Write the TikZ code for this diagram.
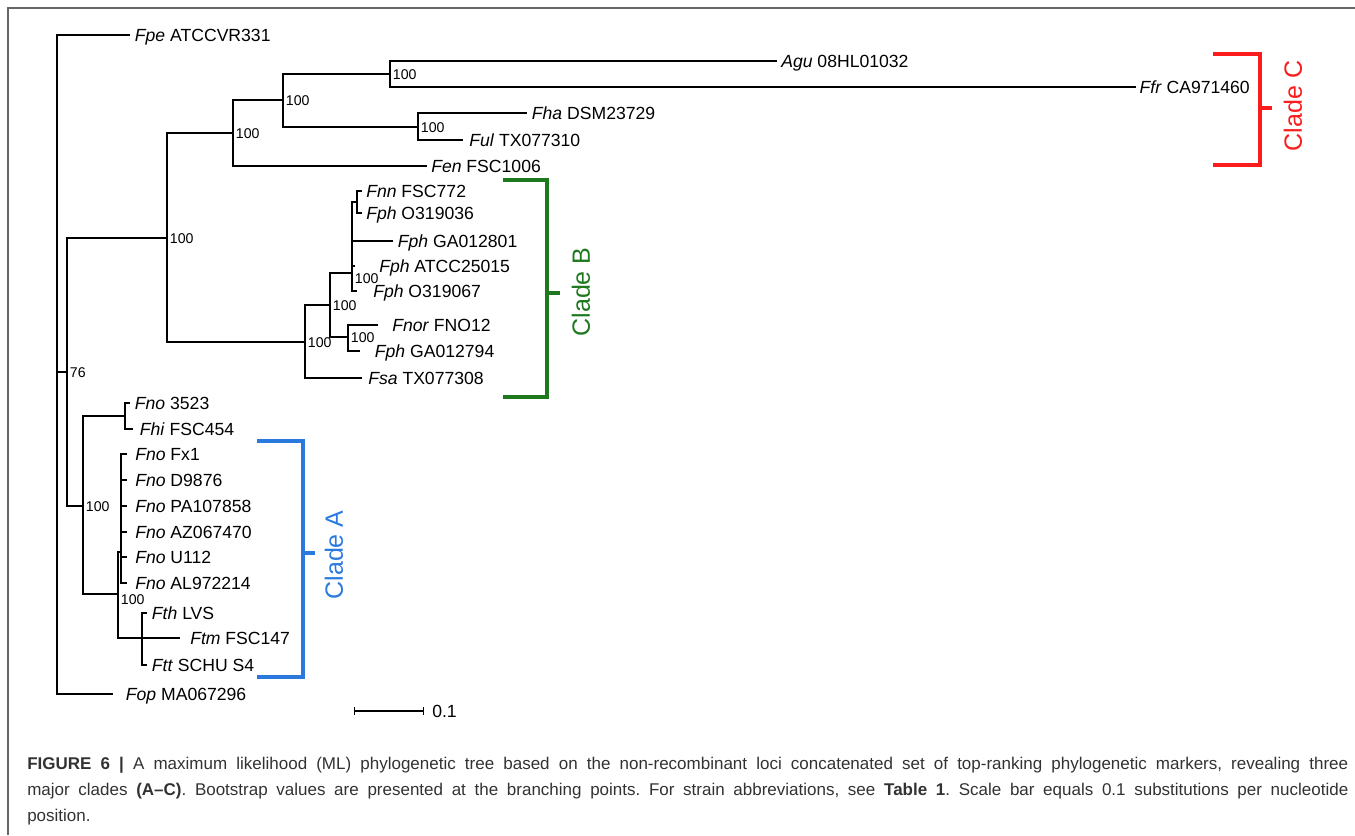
\documentclass[tikz,border=0pt]{standalone}
\usepackage{fontspec}
\setmainfont{Liberation Sans}
\newfontfamily\capfont{Liberation Sans}
\usetikzlibrary{positioning,arrows.meta}
\definecolor{cladeAblue}{RGB}{42,122,222}
\definecolor{cladeBgreen}{RGB}{30,120,30}
\definecolor{cladeCred}{RGB}{250,28,28}
\definecolor{capgray}{RGB}{50,50,50}
\frenchspacing
\begin{document}
\begin{tikzpicture}[x=0.75pt, y=-0.75pt,
  branch/.style={line width=1pt},
  tip/.style={anchor=west, inner xsep=3.5pt, inner ysep=0pt, text height=9.4pt, text depth=0pt, font=\fontsize{13.2}{15}\selectfont},
  boot/.style={anchor=west, inner xsep=2pt, inner ysep=0pt, text height=7.6pt, text depth=0pt, font=\fontsize{10.6}{12}\selectfont},
  clade/.style={line width=3pt},
  cladelab/.style={rotate=90, font=\fontsize{18.75}{20}\selectfont},
  frame/.style={draw=gray!80!black, line width=1pt}
]
\useasboundingbox (0,0) rectangle (1355,835);
\draw[frame] (8,835) |- (1355,8);

% internal nodes
\coordinate (r0) at (57,372);
\coordinate (n76) at (67,372);
\coordinate (nBC) at (167,238);
\coordinate (nC) at (233,133);
\coordinate (nC1) at (283,100);
\coordinate (nAF) at (390,74);
\coordinate (nHU) at (418,127);
\coordinate (nB) at (305,342);
\coordinate (nB1) at (330,305);
\coordinate (nB2) at (352,273);
\coordinate (nB3) at (348,337);
\coordinate (nB4) at (357,202);
\coordinate (nA0) at (83,506);
\coordinate (nA1) at (125,416);
\coordinate (nA2) at (118,594);
\coordinate (nA3) at (121,552);
\coordinate (nA4) at (142,638);

% tips
\node[tip] (fpe) at (130,35) {\textit{Fpe} ATCCVR331};
\node[tip, inner xsep=3pt] (agu) at (777,61) {\textit{Agu} 08HL01032};
\node[tip, inner xsep=2.5pt] (ffr) at (1136,87) {\textit{Ffr} CA971460};
\node[tip] (fha) at (527,113) {\textit{Fha} DSM23729};
\node[tip, inner xsep=4.5pt] (ful) at (463,140) {\textit{Ful} TX077310};
\node[tip, inner xsep=3pt] (fen) at (427,166) {\textit{Fen} FSC1006};
\node[tip, inner xsep=3pt] (fnn) at (362,191) {\textit{Fnn} FSC772};
\node[tip, inner xsep=3pt] (fph036) at (362,213) {\textit{Fph} O319036};
\node[tip] (fph801) at (393,241) {\textit{Fph} GA012801};
\node[tip, inner xsep=18pt] (fph015) at (355,266) {\textit{Fph} ATCC25015};
\node[tip, inner xsep=12pt] (fph067) at (357,291) {\textit{Fph} O319067};
\node[tip, inner xsep=10.5pt] (fnor) at (378,325) {\textit{Fnor} FNO12};
\node[tip, inner xsep=11pt] (fph794) at (360,351) {\textit{Fph} GA012794};
\node[tip, inner xsep=4.5pt] (fsa) at (362,378) {\textit{Fsa} TX077308};
\node[tip] (fno3523) at (130,403) {\textit{Fno} 3523};
\node[tip, inner xsep=5pt] (fhi) at (133,429) {\textit{Fhi} FSC454};
\node[tip, inner xsep=6pt] (fx1) at (127,454) {\textit{Fno} Fx1};
\node[tip, inner xsep=6pt] (d9876) at (127,480) {\textit{Fno} D9876};
\node[tip, inner xsep=6pt] (pa107) at (127,506) {\textit{Fno} PA107858};
\node[tip, inner xsep=6pt] (az067) at (127,532) {\textit{Fno} AZ067470};
\node[tip, inner xsep=6pt] (u112) at (127,557) {\textit{Fno} U112};
\node[tip, inner xsep=6pt] (al972) at (127,583) {\textit{Fno} AL972214};
\node[tip] (fth) at (147,613) {\textit{Fth} LVS};
\node[tip, inner xsep=7.5pt] (ftm) at (180,638) {\textit{Ftm} FSC147};
\node[tip] (ftt) at (147,665) {\textit{Ftt} SCHU S4};
\node[tip, inner xsep=9.5pt] (fop) at (113,694) {\textit{Fop} MA067296};

% branches
\draw[branch] (r0) |- (fpe.west);
\draw[branch] (r0) |- (fop.west);
\draw[branch] (r0) -- (n76);
\draw[branch] (n76) |- (nBC);
\draw[branch] (n76) |- (nA0);
\draw[branch] (nBC) |- (nC);
\draw[branch] (nBC) |- (nB);
\draw[branch] (nC) |- (nC1);
\draw[branch] (nC) |- (fen.west);
\draw[branch] (nC1) |- (nAF);
\draw[branch] (nC1) |- (nHU);
\draw[branch] (nAF) |- (agu.west);
\draw[branch] (nAF) |- (ffr.west);
\draw[branch] (nHU) |- (fha.west);
\draw[branch] (nHU) |- (ful.west);
\draw[branch] (nB) |- (nB1);
\draw[branch] (nB) |- (fsa.west);
\draw[branch] (nB1) |- (nB2);
\draw[branch] (nB1) |- (nB3);
\draw[branch] (nB3) |- (fnor.west);
\draw[branch] (nB3) |- (fph794.west);
\draw[branch] (nB2) |- (nB4);
\draw[branch] (nB2) |- (fph801.west);
\draw[branch] (nB2) |- (fph015.west);
\draw[branch] (nB2) |- (fph067.west);
\draw[branch] (nB4) |- (fnn.west);
\draw[branch] (nB4) |- (fph036.west);
\draw[branch] (nA0) |- (nA1);
\draw[branch] (nA0) |- (nA2);
\draw[branch] (nA1) |- (fno3523.west);
\draw[branch] (nA1) |- (fhi.west);
\draw[branch] (nA2) |- (nA3);
\draw[branch] (nA2) |- (nA4);
\foreach \t in {fx1,d9876,pa107,az067,u112,al972}
  \draw[branch] (nA3) |- (\t.west);
\foreach \t in {fth,ftm,ftt}
  \draw[branch] (nA4) |- (\t.west);

% bootstrap values
\node[boot] at (n76) {76};
\foreach \n in {nBC,nC,nC1,nAF,nHU,nB,nB1,nB3,nA0}
  \node[boot] at (\n) {100};
\node[boot] at ([yshift=-4]nB2) {100};
\node[boot] at ([yshift=-4]nA2) {100};

% clades
\draw[clade, cladeCred] (1213,54) -| (1260,165) -- (1213,165);
\draw[clade, cladeCred] (1260,108) -- (1272,108);
\node[cladelab, text=cladeCred] (cladeC) at (1293,106) {Clade C};
\draw[clade, cladeBgreen] (503,180) -| (547,397) -- (503,397);
\draw[clade, cladeBgreen] (547,293) -- (560,293);
\node[cladelab, text=cladeBgreen] (cladeB) at (581,292) {Clade B};
\draw[clade, cladeAblue] (257,441) -| (303,677) -- (257,677);
\draw[clade, cladeAblue] (303,553) -- (315,553);
\node[cladelab, text=cladeAblue] (cladeA) at (334,555) {Clade A};

% scale bar
\coordinate (sb0) at (354,711);
\coordinate (sb1) at (424,711);
\draw[branch, {Bar[width=6pt]}-{Bar[width=6pt]}] (sb0) -- (sb1);
\node[tip, inner xsep=6pt] (sblab) at (sb1) {0.1};

% caption
\node[anchor=north west, inner sep=0pt, text width=990.75pt, align=justify, text=capgray,
      font=\capfont\fontsize{12.75}{19.5}\selectfont] (caption) at (27,757)
  {\textbf{FIGURE 6 |} A maximum likelihood (ML) phylogenetic tree based on the non-recombinant loci concatenated set of top-ranking phylogenetic markers, revealing three\linebreak
   major clades \textbf{(A–C)}. Bootstrap values are presented at the branching points. For strain abbreviations, see \textbf{Table 1}. Scale bar equals 0.1 substitutions per nucleotide\linebreak
   position.};
\end{tikzpicture}
\end{document}
